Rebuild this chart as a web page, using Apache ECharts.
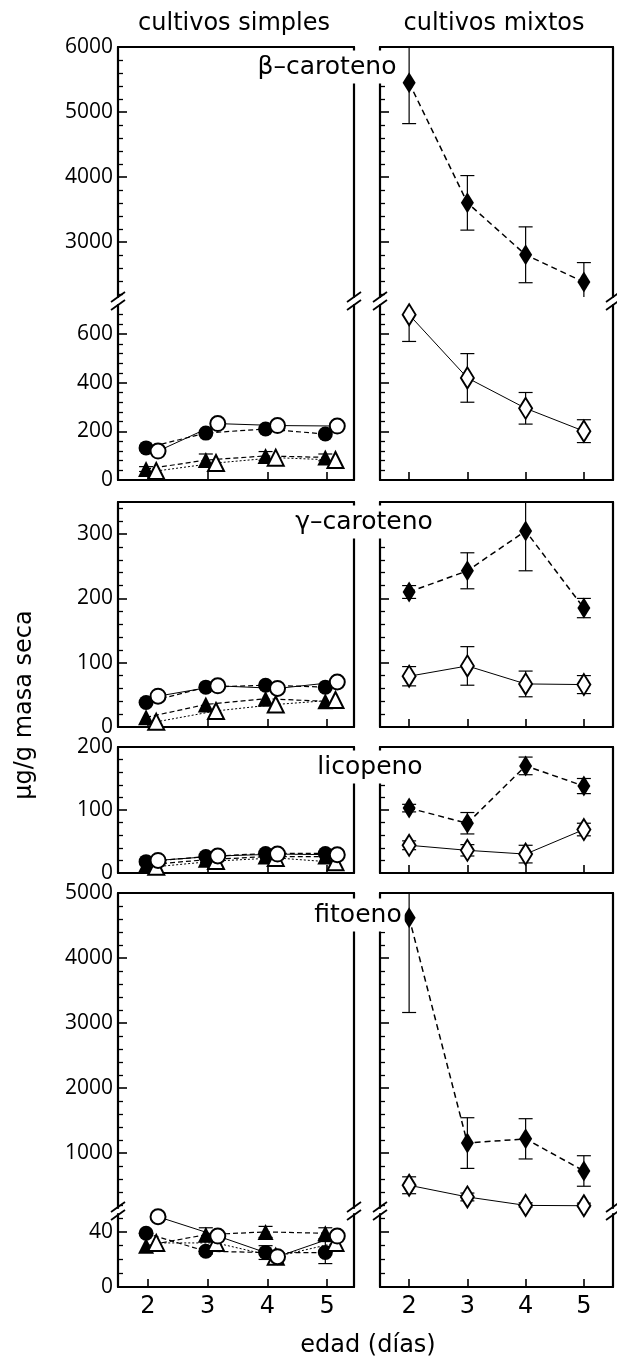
<!DOCTYPE html>
<html>
<head>
<meta charset="utf-8">
<script src="https://cdn.jsdelivr.net/npm/echarts@6/dist/echarts.min.js"></script>
<style>
html, body { margin: 0; padding: 0; background: #fff; }
#chart { width: 617px; height: 1364px; }
</style>
</head>
<body>
<div id="chart"></div>
<script>
// Sampling days
const days = [2, 3, 4, 5];

// β-caroteno (µg/g masa seca)
const betaSimpleFilledCircle = [132, 193, 210, 189];
const betaSimpleOpenCircle = [119, 232, 224, 222];
const betaSimpleFilledTriangle = [45, 82, 99, 93];
const betaSimpleOpenTriangle = [37, 70, 92, 82];
const betaSimpleFilledTriangleErr = [10, 25, 18, 14];
const betaMixedFilled = [5450, 3600, 2800, 2380];
const betaMixedFilledErr = [630, 420, 430, 300];
const betaMixedOpen = [680, 420, 295, 201];
const betaMixedOpenErr = [110, 100, 65, 47];

// γ-caroteno
const gammaSimpleFilledCircle = [38, 62, 65, 62];
const gammaSimpleOpenCircle = [48, 64, 60, 70];
const gammaSimpleFilledTriangle = [15, 35, 44, 40];
const gammaSimpleOpenTriangle = [8, 25, 35, 42];
const gammaMixedFilled = [210, 243, 305, 185];
const gammaMixedFilledErr = [10, 28, 62, 15];
const gammaMixedOpen = [79, 95, 67, 66];
const gammaMixedOpenErr = [15, 30, 20, 14];

// licopeno
const licoSimpleFilledCircle = [18, 26, 31, 31];
const licoSimpleOpenCircle = [20, 27, 30, 29];
const licoSimpleFilledTriangle = [13, 21, 26, 26];
const licoSimpleOpenTriangle = [10, 19, 24, 17];
const licoMixedFilled = [103, 79, 170, 138];
const licoMixedFilledErr = [6, 17, 14, 12];
const licoMixedOpen = [44, 36, 30, 69];
const licoMixedOpenErr = [7, 9, 14, 10];

// fitoeno
const fitoSimpleFilledCircle = [39, 26, 25, 25];
const fitoSimpleFilledCircleErr = [0, 2, 5, 8];
const fitoSimpleOpenCircle = [51, 37, 22, 37];
const fitoSimpleFilledTriangle = [30, 38, 40, 39];
const fitoSimpleFilledTriangleErr = [0, 5, 4, 4];
const fitoSimpleOpenTriangle = [32, 32, 22, 32];
const fitoMixedFilled = [4620, 1150, 1215, 720];
const fitoMixedFilledErr = [1460, 390, 310, 235];
const fitoMixedOpen = [500, 320, 190, 185];
const fitoMixedOpenErr = [130, 60, 40, 40];

// Axis tick values
const betaUpMajor = [3000, 4000, 5000, 6000];
const betaLowMajor = [0, 200, 400, 600];
const gammaMajor = [0, 100, 200, 300];
const licoMajor = [0, 100, 200];
const fitoUpMajor = [1000, 2000, 3000, 4000, 5000];
const fitoLowMajor = [0, 40];

const INK = '#000';
const FONT = 'DejaVu Sans';
const NUM_FONT = 'Open Sans';

function steps(from, to, step, skip) {
  const out = [];
  for (let v = from; v <= to + 1e-9; v += step) {
    if (!skip.includes(v)) out.push(v);
  }
  return out;
}

// Column geometry
const COLS = {
  simple: { left: 118, width: 236, xMax: 5.45, labels: true },
  mixed: { left: 380, width: 233, xMax: 5.5, labels: false }
};
const X_MIN = 1.5;

// Panel rows (segments of broken axes are separate rows)
const ROWS = {
  betaUp:  { top: 47,   height: 250, min: 2150, max: 6000, major: betaUpMajor,  minor: steps(2200, 5800, 200, betaUpMajor), edge: 'upper' },
  betaLow: { top: 305,  height: 175, min: 0,    max: 720,  major: betaLowMajor, minor: steps(40, 680, 40, betaLowMajor),    edge: 'lower' },
  gamma:   { top: 502,  height: 225, min: 0,    max: 350,  major: gammaMajor,   minor: steps(20, 340, 20, gammaMajor),      edge: 'both' },
  lico:    { top: 747,  height: 126, min: 0,    max: 200,  major: licoMajor,    minor: steps(20, 180, 20, licoMajor),       edge: 'both' },
  fitoUp:  { top: 893,  height: 315, min: 150,  max: 5000, major: fitoUpMajor,  minor: steps(200, 4800, 200, fitoUpMajor),  edge: 'upper' },
  fitoLow: { top: 1214, height: 73,  min: 0,    max: 53,   major: fitoLowMajor, minor: steps(10, 50, 10, fitoLowMajor),     edge: 'lower', xLabels: true }
};

const grid = [], xAxis = [], yAxis = [], series = [];
const gridIndex = {};

function addGrid(rowKey, colKey) {
  const r = ROWS[rowKey], c = COLS[colKey];
  const gi = grid.length;
  gridIndex[rowKey + '_' + colKey] = gi;
  const bottomEdge = r.edge !== 'upper';
  const topEdge = r.edge !== 'lower';
  const line = { color: INK, width: 2.2 };
  grid.push({ left: c.left, top: r.top, width: c.width, height: r.height });
  xAxis.push({
    gridIndex: gi, type: 'value', min: X_MIN, max: c.xMax, position: 'bottom',
    axisLine: { show: bottomEdge, onZero: false, lineStyle: line },
    axisTick: { show: bottomEdge, inside: true, length: 8, customValues: days, lineStyle: { color: INK, width: 1.6 } },
    axisLabel: { show: !!r.xLabels, customValues: days, color: INK, fontFamily: FONT, fontSize: 24, margin: 8 },
    splitLine: { show: false }
  });
  xAxis.push({
    gridIndex: gi, type: 'value', min: X_MIN, max: c.xMax, position: 'top',
    axisLine: { show: topEdge, onZero: false, lineStyle: line },
    axisTick: { show: false }, axisLabel: { show: false }, splitLine: { show: false }
  });
  yAxis.push({
    gridIndex: gi, type: 'value', min: r.min, max: r.max, position: 'left',
    axisLine: { show: true, onZero: false, lineStyle: line },
    axisTick: { show: true, inside: true, length: 9, customValues: r.major, lineStyle: { color: INK, width: 1.6 } },
    axisLabel: {
      show: c.labels, customValues: r.major, color: INK, fontFamily: NUM_FONT, fontSize: 21, margin: 5,
      formatter: function (v) { return String(v); }
    },
    splitLine: { show: false }
  });
  yAxis.push({
    gridIndex: gi, type: 'value', min: r.min, max: r.max, position: 'left',
    axisLine: { show: false },
    axisTick: { show: true, inside: true, length: 5, customValues: r.minor, lineStyle: { color: INK, width: 1.3 } },
    axisLabel: { show: false }, splitLine: { show: false }
  });
  yAxis.push({
    gridIndex: gi, type: 'value', min: r.min, max: r.max, position: 'right',
    axisLine: { show: true, onZero: false, lineStyle: line },
    axisTick: { show: false }, axisLabel: { show: false }, splitLine: { show: false }
  });
  return gi;
}

Object.keys(ROWS).forEach(function (rk) {
  addGrid(rk, 'simple');
  addGrid(rk, 'mixed');
});

// Marker styles
const MARK = {
  filledCircle:   { symbol: 'circle',   size: 15,       filled: true,  shift: -0.03, dash: [5, 3], width: 1.2 },
  openCircle:     { symbol: 'circle',   size: 15,       filled: false, shift: 0.17,  dash: 'solid', width: 1 },
  filledTriangle: { symbol: 'triangle', size: 16,       filled: true,  shift: -0.03, dash: [5, 3], width: 1.2 },
  openTriangle:   { symbol: 'triangle', size: 16,       filled: false, shift: 0.14,  dash: [2, 2], width: 1 },
  filledDiamond:  { symbol: 'diamond',  size: [13, 21], filled: true,  shift: 0,     dash: [6, 4], width: 1.5 },
  openDiamond:    { symbol: 'diamond',  size: [13, 21], filled: false, shift: 0,     dash: 'solid', width: 1 }
};

function addLine(gi, vals, markKey) {
  const m = MARK[markKey];
  series.push({
    type: 'line', xAxisIndex: 2 * gi, yAxisIndex: 3 * gi,
    data: days.map(function (d, i) { return [d + m.shift, vals[i]]; }),
    symbol: m.symbol, symbolSize: m.size, showAllSymbol: true,
    itemStyle: { color: m.filled ? INK : '#fff', borderColor: INK, borderWidth: m.filled ? 0 : 2 },
    lineStyle: { color: INK, width: m.width, type: m.dash },
    z: m.filled ? 3 : 4, animation: false, silent: true
  });
}

function addErr(gi, vals, errs, markKey) {
  const m = MARK[markKey];
  series.push({
    type: 'custom', xAxisIndex: 2 * gi, yAxisIndex: 3 * gi, clip: true, z: 2, animation: false, silent: true,
    data: days.map(function (d, i) { return [d + m.shift, vals[i], errs[i]]; }),
    renderItem: function (params, api) {
      const e = api.value(2);
      if (!e) return null;
      const x = api.value(0), v = api.value(1);
      const hi = api.coord([x, v + e]);
      const lo = api.coord([x, v - e]);
      const w = 7;
      const st = { stroke: INK, lineWidth: 1.2 };
      return {
        type: 'group',
        children: [
          { type: 'line', shape: { x1: hi[0], y1: hi[1], x2: lo[0], y2: lo[1] }, style: st },
          { type: 'line', shape: { x1: hi[0] - w, y1: hi[1], x2: hi[0] + w, y2: hi[1] }, style: st },
          { type: 'line', shape: { x1: lo[0] - w, y1: lo[1], x2: lo[0] + w, y2: lo[1] }, style: st }
        ]
      };
    }
  });
}

function simplePanel(rows, fc, oc, ft, ot, errs) {
  rows.forEach(function (rk) {
    const gi = gridIndex[rk + '_simple'];
    if (errs.ft) addErr(gi, ft, errs.ft, 'filledTriangle');
    if (errs.fc) addErr(gi, fc, errs.fc, 'filledCircle');
    addLine(gi, ft, 'filledTriangle');
    addLine(gi, fc, 'filledCircle');
    addLine(gi, ot, 'openTriangle');
    addLine(gi, oc, 'openCircle');
  });
}

function mixedPanel(rows, fd, fdErr, od, odErr) {
  rows.forEach(function (rk) {
    const gi = gridIndex[rk + '_mixed'];
    addErr(gi, fd, fdErr, 'filledDiamond');
    addErr(gi, od, odErr, 'openDiamond');
    addLine(gi, fd, 'filledDiamond');
    addLine(gi, od, 'openDiamond');
  });
}

simplePanel(['betaUp', 'betaLow'], betaSimpleFilledCircle, betaSimpleOpenCircle, betaSimpleFilledTriangle, betaSimpleOpenTriangle, { ft: betaSimpleFilledTriangleErr });
mixedPanel(['betaUp', 'betaLow'], betaMixedFilled, betaMixedFilledErr, betaMixedOpen, betaMixedOpenErr);
simplePanel(['gamma'], gammaSimpleFilledCircle, gammaSimpleOpenCircle, gammaSimpleFilledTriangle, gammaSimpleOpenTriangle, {});
mixedPanel(['gamma'], gammaMixedFilled, gammaMixedFilledErr, gammaMixedOpen, gammaMixedOpenErr);
simplePanel(['lico'], licoSimpleFilledCircle, licoSimpleOpenCircle, licoSimpleFilledTriangle, licoSimpleOpenTriangle, {});
mixedPanel(['lico'], licoMixedFilled, licoMixedFilledErr, licoMixedOpen, licoMixedOpenErr);
simplePanel(['fitoUp', 'fitoLow'], fitoSimpleFilledCircle, fitoSimpleOpenCircle, fitoSimpleFilledTriangle, fitoSimpleOpenTriangle, { ft: fitoSimpleFilledTriangleErr, fc: fitoSimpleFilledCircleErr });
mixedPanel(['fitoUp', 'fitoLow'], fitoMixedFilled, fitoMixedFilledErr, fitoMixedOpen, fitoMixedOpenErr);

// Text and decorations
const graphic = [];
function text(str, x, y, size, opts) {
  graphic.push(Object.assign({
    type: 'text', x: x, y: y, z: 50,
    style: Object.assign({
      text: str, font: size + 'px "' + FONT + '"', fill: INK,
      align: 'center', verticalAlign: 'middle'
    }, (opts && opts.style) || {})
  }, (opts && opts.el) || {}));
}

text('cultivos simples', 234, 24, 24);
text('cultivos mixtos', 494, 24, 24);
text('edad (días)', 368, 1346, 24);
text('μg/g masa seca', 25, 705, 24, { el: { rotation: Math.PI / 2 } });

const boxed = { style: { backgroundColor: '#fff', padding: [4, 3] } };
text('β–caroteno', 327, 67, 25, boxed);
text('γ–caroteno', 364, 522, 25, boxed);
text('licopeno', 370, 767, 25, boxed);
text('fitoeno', 358, 915, 25, boxed);

// Break marks on broken axes
function breakMarks(upKey, lowKey) {
  const yc = (ROWS[upKey].top + ROWS[upKey].height + ROWS[lowKey].top) / 2;
  ['simple', 'mixed'].forEach(function (ck) {
    const c = COLS[ck];
    [c.left, c.left + c.width].forEach(function (x) {
      [-4, 4].forEach(function (o) {
        graphic.push({
          type: 'line', z: 50,
          shape: { x1: x - 7, y1: yc + o + 5, x2: x + 7, y2: yc + o - 5 },
          style: { stroke: INK, lineWidth: 1.8 }
        });
      });
    });
  });
}
breakMarks('betaUp', 'betaLow');
breakMarks('fitoUp', 'fitoLow');

const chart = echarts.init(document.getElementById('chart'), null, { renderer: 'canvas' });
chart.setOption({
  backgroundColor: '#fff',
  animation: false,
  grid: grid,
  xAxis: xAxis,
  yAxis: yAxis,
  series: series,
  graphic: graphic
});
</script>
</body>
</html>
